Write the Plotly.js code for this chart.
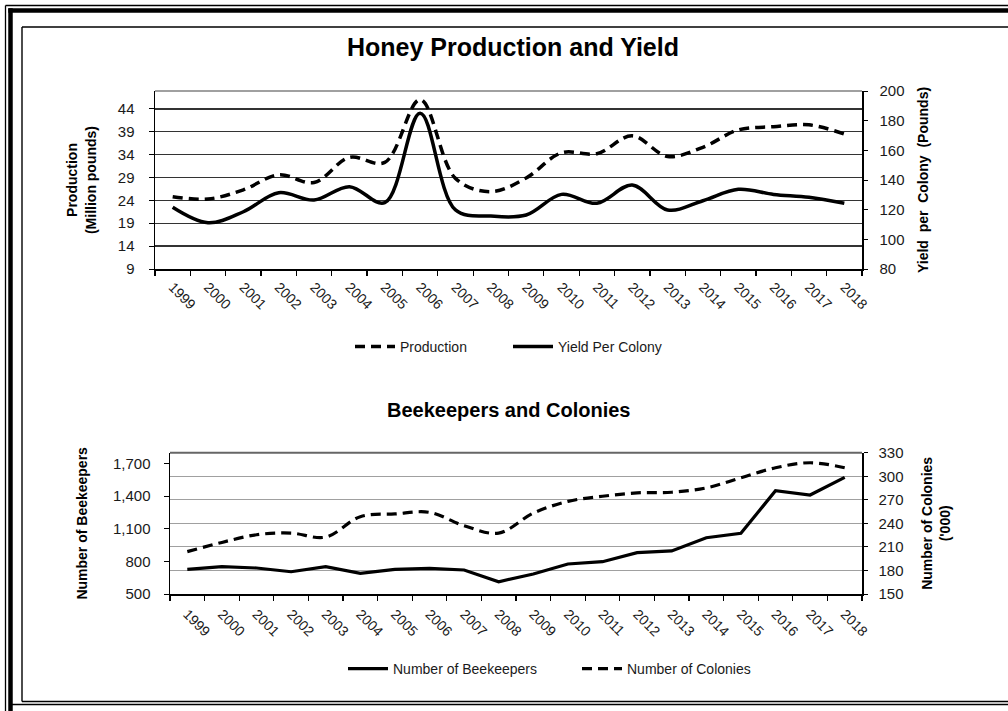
<!DOCTYPE html>
<html><head><meta charset="utf-8">
<script src="https://cdn.plot.ly/plotly-3.0.1.min.js"></script>
<style>html,body{margin:0;padding:0;background:#fff}#chart{width:1008px;height:711px}</style>
</head><body><div id="chart"></div>
<script>
// ---- data ----
const years = ['1999','2000','2001','2002','2003','2004','2005','2006','2007','2008','2009','2010','2011','2012','2013','2014','2015','2016','2017','2018'];
const production = [24.8,24.3,26.3,29.6,27.9,33.4,32.3,46.0,28.8,25.9,28.9,34.4,34.2,38.1,33.6,35.6,39.4,40.1,40.5,38.5];
const yieldPerColony = [121.6,111.2,118.6,131.4,126.5,135.5,124.7,185,119.8,115.7,116.4,130.3,124.3,136.6,119.8,126,133.7,130.3,128.3,124.3];
const beekeepers = [727,751,739,705,751,690,727,736,721,613,684,776,797,880,896,1018,1058,1450,1411,1573];
const colonies = [204,215.7,225.5,227.6,222.5,248.5,252,254,237,227.6,253,268,274.5,278.8,279.6,285.2,298,310.8,317.2,310.8];
const prodTicks = [9,14,19,24,29,34,39,44];
const yieldTicks = [80,100,120,140,160,180,200];
const keeperTicks = [500,800,1100,1400,1700];
const colonyTicks = [150,180,210,240,270,300,330];

const W = 1008, H = 711;
const px = v => v / W;
const py = v => 1 - v / H;
const FONT = 'Liberation Sans, Arial, sans-serif';
const TXT = '#1a1a1a';

const traces = [
  {x: years, y: production, name: 'Production', type: 'scatter', mode: 'lines',
   xaxis: 'x', yaxis: 'y', legend: 'legend',
   line: {color: '#000', width: 3.5, dash: '10px,6px', shape: 'spline', smoothing: 1}},
  {x: years, y: yieldPerColony, name: 'Yield Per Colony', type: 'scatter', mode: 'lines',
   xaxis: 'x', yaxis: 'y2', legend: 'legend',
   line: {color: '#000', width: 3.5, shape: 'spline', smoothing: 1}},
  {x: years, y: beekeepers, name: 'Number of Beekeepers', type: 'scatter', mode: 'lines',
   xaxis: 'x2', yaxis: 'y3', legend: 'legend2',
   line: {color: '#000', width: 3.2}},
  {x: years, y: colonies, name: 'Number of Colonies', type: 'scatter', mode: 'lines',
   xaxis: 'x2', yaxis: 'y4', legend: 'legend2',
   line: {color: '#000', width: 3.2, dash: '10px,6px', shape: 'spline', smoothing: 1}}
];

const tickFont = {family: FONT, size: 14, color: TXT};
const yTickFont = {family: FONT, size: 15, color: TXT};
const titleFont = {family: FONT, size: 14, color: '#000', weight: 700};

const xBase = {type: 'category', tickson: 'boundaries', ticks: 'outside', ticklen: 5, tickwidth: 1.3,
  tickcolor: '#000', showline: true, linecolor: '#000', linewidth: 1.5, showgrid: false,
  tickangle: 45, tickfont: tickFont, range: [-0.5, 19.5], fixedrange: true, automargin: false};

const layout = {
  width: W, height: H, margin: {l: 0, r: 0, t: 0, b: 0},
  paper_bgcolor: '#fff', plot_bgcolor: 'rgba(0,0,0,0)',
  font: {family: FONT, color: TXT},
  title: {text: 'Honey Production and Yield', x: px(513), xanchor: 'center', y: py(47), yanchor: 'middle',
    font: {family: FONT, size: 25, color: '#000', weight: 700}},
  xaxis: Object.assign({}, xBase, {domain: [px(155), px(862)], anchor: 'y', ticklabelstandoff: 3}),
  yaxis: {domain: [py(269), py(91)], anchor: 'x', range: [9, 47.9], tickvals: prodTicks,
    showgrid: true, gridcolor: '#333', gridwidth: 1.3, zeroline: false,
    showline: true, linecolor: '#000', linewidth: 1.5, ticks: 'outside', ticklen: 5, tickcolor: '#000',
    tickfont: yTickFont, ticklabelstandoff: 11, automargin: false,
    title: {text: 'Production<br>(Million pounds)', font: titleFont, standoff: 18}},
  yaxis2: {overlaying: 'y', side: 'right', anchor: 'x', range: [80, 200], tickvals: yieldTicks,
    showgrid: false, zeroline: false, showline: true, linecolor: '#000', linewidth: 1.5,
    ticks: 'outside', ticklen: 4, tickcolor: '#000', tickfont: yTickFont, ticklabelstandoff: 9, automargin: false,
    title: {text: 'Yield  per  Colony  (Pounds)', font: titleFont, standoff: 14}},
  xaxis2: Object.assign({}, xBase, {domain: [px(170), px(862)], anchor: 'y3', ticklabelstandoff: 5}),
  yaxis3: {domain: [py(594), py(452.7)], anchor: 'x2', range: [500, 1800], tickvals: keeperTicks,
    tickformat: ',', showgrid: false, zeroline: false, showline: true, linecolor: '#000', linewidth: 1.5,
    ticks: 'outside', ticklen: 5, tickcolor: '#000', tickfont: yTickFont, ticklabelstandoff: 10, automargin: false,
    title: {text: 'Number of Beekeepers', font: titleFont, standoff: 22}},
  yaxis4: {overlaying: 'y3', side: 'right', anchor: 'x2', range: [150, 330], tickvals: colonyTicks,
    showgrid: true, gridcolor: '#a0a0a0', gridwidth: 1, zeroline: false,
    showline: true, linecolor: '#000', linewidth: 1.5, ticks: 'outside', ticklen: 4, tickcolor: '#000',
    tickfont: yTickFont, ticklabelstandoff: 8, automargin: false,
    title: {text: 'Number of Colonies<br>(\'000)', font: titleFont, standoff: 19}},
  legend: {orientation: 'h', x: px(350), xanchor: 'left', y: py(347), yanchor: 'middle',
    font: {family: FONT, size: 14, color: TXT}, bgcolor: 'rgba(0,0,0,0)', traceorder: 'normal',
    itemwidth: 40, entrywidth: 103},
  legend2: {orientation: 'h', x: px(343), xanchor: 'left', y: py(669), yanchor: 'middle',
    font: {family: FONT, size: 14, color: TXT}, bgcolor: 'rgba(0,0,0,0)', traceorder: 'normal',
    itemwidth: 40, entrywidth: 179},
  annotations: [
    {text: 'Beekeepers and Colonies', xref: 'paper', yref: 'paper', x: px(508), y: py(410),
     xanchor: 'center', yanchor: 'middle', showarrow: false,
     font: {family: FONT, size: 20, color: '#000', weight: 700}}
  ],
  shapes: [
    // plot top borders
    {type: 'line', xref: 'paper', yref: 'paper', x0: px(155), x1: px(862), y0: py(91), y1: py(91), line: {color: '#808080', width: 1.6}},
    {type: 'line', xref: 'paper', yref: 'paper', x0: px(170), x1: px(862), y0: py(452.7), y1: py(452.7), line: {color: '#666', width: 2}},
    // outer frame
    {type: 'line', xref: 'paper', yref: 'paper', x0: px(5.5), x1: px(5.5), y0: py(5.5), y1: py(711), line: {color: '#000', width: 1.3}},
    {type: 'line', xref: 'paper', yref: 'paper', x0: px(5.5), x1: px(1008), y0: py(5.5), y1: py(5.5), line: {color: '#000', width: 1.3}},
    {type: 'line', xref: 'paper', yref: 'paper', x0: px(10.5), x1: px(10.5), y0: py(8.3), y1: py(711), line: {color: '#000', width: 4.5}},
    {type: 'line', xref: 'paper', yref: 'paper', x0: px(8.3), x1: px(1008), y0: py(10.5), y1: py(10.5), line: {color: '#000', width: 4.5}},
    // inner frame
    {type: 'line', xref: 'paper', yref: 'paper', x0: px(22), x1: px(22), y0: py(27), y1: py(701.5), line: {color: '#000', width: 1.4}},
    {type: 'line', xref: 'paper', yref: 'paper', x0: px(22), x1: px(1008), y0: py(27), y1: py(27), line: {color: '#000', width: 1.4}},
    {type: 'line', xref: 'paper', yref: 'paper', x0: px(22), x1: px(1008), y0: py(701.5), y1: py(701.5), line: {color: '#000', width: 1.3}},
    {type: 'line', xref: 'paper', yref: 'paper', x0: px(10.5), x1: px(1008), y0: py(704.5), y1: py(704.5), line: {color: '#000', width: 1.3}}
  ]
};

Plotly.newPlot('chart', traces, layout, {displayModeBar: false, staticPlot: true});
</script>
</body></html>
